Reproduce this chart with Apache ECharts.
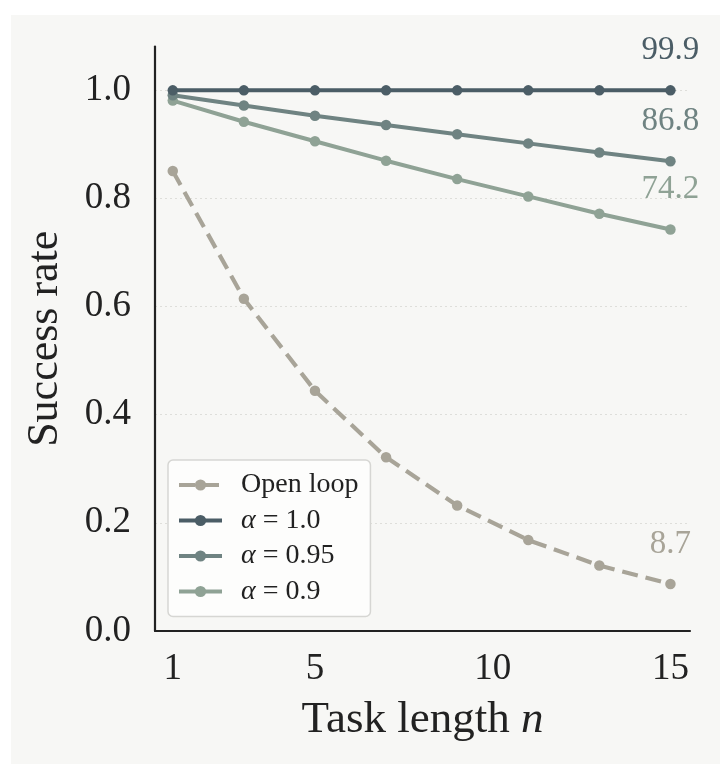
<!DOCTYPE html>
<html><head><meta charset="utf-8">
<script src="https://cdn.jsdelivr.net/npm/echarts@6/dist/echarts.min.js"></script>
<style>html,body{margin:0;padding:0;background:#fff;}#c{width:724px;height:768px;}</style>
</head><body><div id="c"></div>
<script>
// ---- data ----
const taskLength = [1, 3, 5, 7, 9, 11, 13, 15];
const openLoop   = [0.850, 0.614, 0.444, 0.321, 0.232, 0.168, 0.121, 0.087];
const alpha100   = [0.999, 0.999, 0.999, 0.999, 0.999, 0.999, 0.999, 0.999];
const alpha095   = [0.990, 0.971, 0.952, 0.935, 0.918, 0.901, 0.884, 0.868];
const alpha090   = [0.980, 0.941, 0.905, 0.869, 0.835, 0.803, 0.771, 0.742];
const xTicks = [1, 5, 10, 15];
const yTicks = [0, 0.2, 0.4, 0.6, 0.8, 1.0];
const seriesNames = ['Open loop', 'α = 1.0', 'α = 0.95', 'α = 0.9'];

const SERIF = '"Liberation Serif", "DejaVu Serif", serif';
const COLORS = {
  'Open loop': '#a8a498',
  'α = 1.0': '#4b5d66',
  'α = 0.95': '#6f8382',
  'α = 0.9': '#8fa295'
};

function mk(name, values, dashed, z) {
  const last = values.length - 1;
  return {
    name: name,
    type: 'line',
    z: z,
    data: taskLength.map((n, i) => [n, values[i]]),
    symbol: 'circle',
    symbolSize: 10.5,
    color: COLORS[name],
    lineStyle: { width: dashed ? 4.2 : 4, color: COLORS[name], type: dashed ? [16, 8] : 'solid' },
    itemStyle: { color: COLORS[name] },
    emphasis: { disabled: true },
    label: {
      show: true,
      position: 'top',
      distance: 18,
      fontFamily: SERIF,
      fontSize: 33,
      lineHeight: 33,
      color: COLORS[name],
      formatter: p => p.dataIndex === last ? (values[last] * 100).toFixed(1) : ''
    },
    animation: false
  };
}

const chart = echarts.init(document.getElementById('c'), null, { renderer: 'canvas' });
chart.setOption({
  backgroundColor: '#ffffff',
  animation: false,
  graphic: [{
    type: 'rect', z: -10, silent: true,
    shape: { x: 11, y: 15, width: 709, height: 749 },
    style: { fill: '#f7f7f5' }
  }],
  grid: { left: 155, top: 46.5, width: 535, bottom: 137, containLabel: false },
  xAxis: {
    type: 'value', min: 0.5, max: 15.55,
    name: 'Task length {i|n}',
    nameLocation: 'middle', nameGap: 67,
    nameTextStyle: {
      fontFamily: SERIF, fontSize: 45, color: '#222',
      rich: { i: { fontFamily: SERIF, fontSize: 45, fontStyle: 'italic', color: '#222' } }
    },
    axisLine: { show: true, onZero: false, lineStyle: { color: '#222', width: 2.2 } },
    axisTick: { show: false, customValues: xTicks },
    axisLabel: { customValues: xTicks, fontFamily: SERIF, fontSize: 37, color: '#222', margin: 20 },
    splitLine: { show: false }
  },
  yAxis: {
    type: 'value', min: 0, max: 1.08,
    name: 'Success rate',
    nameLocation: 'middle', nameGap: 88,
    nameTextStyle: { fontFamily: SERIF, fontSize: 44, color: '#222' },
    axisLine: { show: true, lineStyle: { color: '#222', width: 2.2 } },
    axisTick: { show: false, customValues: yTicks },
    axisLabel: { customValues: yTicks, fontFamily: SERIF, fontSize: 37, color: '#222', margin: 24,
      formatter: v => v.toFixed(1) },
    splitLine: { show: true, lineStyle: { color: '#dededa', width: 1.2, type: [2, 3] } }
  },
  legend: {
    data: seriesNames,
    orient: 'vertical',
    left: 168, top: 460,
    padding: [11, 12, 11, 9],
    backgroundColor: '#fdfdfc',
    borderColor: '#d6d6d3',
    borderWidth: 1.5,
    borderRadius: 5,
    itemWidth: 43, itemHeight: 14, itemGap: 7.5,
    lineStyle: { width: 4 },
    textStyle: {
      fontFamily: SERIF, fontSize: 28, lineHeight: 28, color: '#222', padding: [0, 0, 0, 14],
      rich: { i: { fontFamily: SERIF, fontSize: 28, lineHeight: 28, fontStyle: 'italic', color: '#222' } }
    },
    formatter: name => name.replace('α', '{i|α}')
  },
  series: [
    mk('Open loop', openLoop, true, 2),
    mk('α = 0.9', alpha090, false, 3),
    mk('α = 0.95', alpha095, false, 4),
    mk('α = 1.0', alpha100, false, 5)
  ]
});
</script>
</body></html>
